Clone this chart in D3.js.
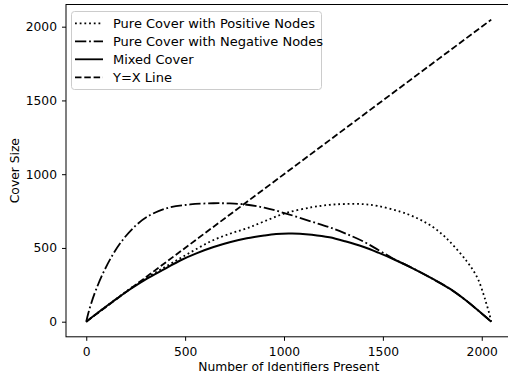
<!DOCTYPE html>
<html>
<head>
<meta charset="utf-8">
<script src="https://cdn.jsdelivr.net/npm/d3@7"></script>
<style>
  html, body { margin: 0; padding: 0; background: #fff; }
  svg { display: block; font-family: "DejaVu Sans", sans-serif; }
</style>
</head>
<body>
<svg id="chart" width="508" height="378"></svg>
<script>
// values
const positiveX = [0, 60, 138, 220, 307, 400, 475, 560, 644, 730, 812, 900, 1006, 1141, 1230, 1309, 1400, 1477, 1587, 1646, 1700, 1755, 1800, 1840, 1924, 1977, 2008, 2023, 2038, 2048];
const positiveY = [0, 62, 141, 222, 300, 372, 430, 495, 554, 598, 633, 680, 735, 776, 792, 798, 797, 784, 746, 718, 684, 640, 592, 540, 410, 300, 190, 124, 55, 0];

const negativeX = [0, 10, 25, 50, 90, 138, 190, 250, 307, 408, 526, 644, 720, 795, 900, 1006, 1141, 1230, 1309, 1400, 1477, 1530, 1560, 1646, 1755, 1840, 1924, 2000, 2048];
const negativeY = [0, 55, 124, 219, 343, 463, 564, 651, 711, 770, 795, 803, 802, 796, 773, 735, 678, 640, 599, 545, 486, 445, 422, 366, 288, 222, 140, 55, 0];

const mixedX = [0, 60, 138, 220, 307, 400, 475, 560, 644, 730, 812, 900, 960, 1023, 1080, 1141, 1230, 1309, 1400, 1477, 1560, 1646, 1755, 1840, 1924, 2000, 2048];
const mixedY = [0, 62, 140, 218, 292, 360, 415, 465, 506, 540, 565, 584, 594, 598, 597, 590, 572, 545, 508, 468, 420, 365, 288, 222, 140, 55, 0];

const identityX = [0, 2048];
const identityY = [0, 2048];

const xTicks = [0, 500, 1000, 1500, 2000];
const yTicks = [0, 500, 1000, 1500, 2000];

const seriesNames = ["Pure Cover with Positive Nodes", "Pure Cover with Negative Nodes", "Mixed Cover", "Y=X Line"];

const lw = 1.8;
const dashes = ["1.8,2.9", "11.3,2.8,1.8,2.8", null, "6.5,2.8"];

const svg = d3.select('#chart');
const plotL = 66, plotR = 511.5, plotT = 4.5, plotB = 336.8;

const x = d3.scaleLinear().domain([-102.4, 2150.4]).range([plotL, plotR]);
const y = d3.scaleLinear().domain([-102.4, 2150.4]).range([plotB, plotT]);

const zip = (xs, ys) => xs.map((v, i) => [v, ys[i]]);
const series = [
    zip(positiveX, positiveY),
    zip(negativeX, negativeY),
    zip(mixedX, mixedY),
    zip(identityX, identityY)
];

const line = d3.line()
    .x(d => x(d[0]))
    .y(d => y(d[1]))
    .curve(d3.curveCatmullRom.alpha(0.5));

svg.selectAll('.series')
    .data(series)
    .join('path')
    .attr('class', 'series')
    .attr('d', line)
    .attr('fill', 'none')
    .attr('stroke', '#000')
    .attr('stroke-width', (_, i) => i === 2 ? 2 : lw)
    .attr('stroke-dasharray', (_, i) => dashes[i]);

// axes
const fs = 12.3;
const gx = svg.append('g')
    .attr('transform', `translate(0,${plotB})`)
    .call(d3.axisBottom(x).tickValues(xTicks).tickSize(4).tickPadding(6).tickFormat(d3.format('d')));
const gy = svg.append('g')
    .attr('transform', `translate(${plotL},0)`)
    .call(d3.axisLeft(y).tickValues(yTicks).tickSize(4).tickPadding(5).tickFormat(d3.format('d')));

[gx, gy].forEach(g => {
    g.select('.domain').remove();
    g.selectAll('line').attr('stroke', '#000').attr('stroke-width', 1);
    g.selectAll('text').attr('font-size', fs).attr('font-family', '"DejaVu Sans", sans-serif').attr('fill', '#000');
});

// spines
svg.append('rect')
    .attr('x', plotL).attr('y', plotT)
    .attr('width', plotR - plotL).attr('height', plotB - plotT)
    .attr('fill', 'none').attr('stroke', '#000').attr('stroke-width', 1);

svg.append('text')
    .attr('x', (plotL + plotR) / 2).attr('y', 371)
    .attr('text-anchor', 'middle')
    .attr('font-size', fs)
    .text('Number of Identifiers Present');

svg.append('text')
    .attr('transform', `translate(19,${(plotT + plotB) / 2}) rotate(-90)`)
    .attr('text-anchor', 'middle')
    .attr('font-size', fs)
    .text('Cover Size');

// legend
const lg = svg.append('g');
lg.append('rect')
    .attr('x', 71.5).attr('y', 11.5)
    .attr('width', 250).attr('height', 78)
    .attr('rx', 3)
    .attr('fill', '#fff').attr('fill-opacity', 0.8)
    .attr('stroke', '#ccc');

const rows = lg.selectAll('.row')
    .data(seriesNames)
    .join('g')
    .attr('class', 'row')
    .attr('transform', (_, i) => `translate(0,${23.3 + i * 18})`);

rows.append('line')
    .attr('x1', 75).attr('x2', 103)
    .attr('stroke', '#000')
    .attr('stroke-width', lw)
    .attr('stroke-dasharray', (_, i) => dashes[i]);

rows.append('text')
    .attr('x', 113).attr('dy', '0.35em')
    .attr('font-size', 13)
    .text(d => d);
</script>
</body>
</html>
